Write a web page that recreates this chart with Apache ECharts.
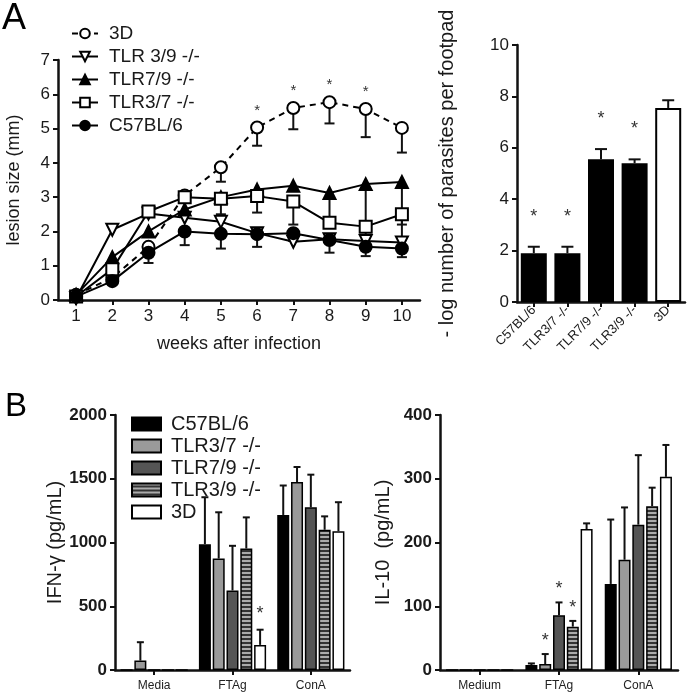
<!DOCTYPE html>
<html><head><meta charset="utf-8">
<script src="https://cdn.jsdelivr.net/npm/echarts@6/dist/echarts.min.js"></script>
<style>html,body{margin:0;padding:0;background:#fff}#c{width:693px;height:696px}</style>
</head><body><div id="c"></div>
<script>
// ---------- Panel A (left): lesion size ----------
const weeks = ['1','2','3','4','5','6','7','8','9','10'];
const lesion3D      = [0.15,0.65,1.55,3.05,3.87,5.03,5.6,5.77,5.57,5.02];
const lesion3DLow   = [null,null,null,null,3.45,4.5,4.98,5.15,4.75,4.3];
const lesion3DSig   = [0,0,0,0,0,1,1,1,1,0];
const lesionTLR39   = [0.05,2.05,2.52,2.4,2.28,1.95,1.7,1.77,1.72,1.68];
const lesionTLR39Low= [null,null,null,null,null,null,null,null,1.45,1.45];
const lesionTLR79   = [0.15,1.25,2.0,2.64,3.0,3.22,3.33,3.12,3.38,3.44];
const lesionTLR79Low= [null,null,null,null,null,null,null,2.3,1.6,1.55];
const lesionTLR37   = [0.1,0.9,2.58,3.0,2.95,3.03,2.87,2.25,2.14,2.5];
const lesionTLR37Low= [null,null,null,null,2.5,2.55,2.2,null,null,2.2];
const lesionC57     = [0.1,0.55,1.38,2.0,1.93,1.92,1.95,1.75,1.55,1.5];
const lesionC57Low  = [null,null,1.08,1.6,1.5,1.55,1.72,1.38,1.28,1.25];

// ---------- Panel A (right): parasites ----------
const groupsA       = ['C57BL/6','TLR3/7 -/-','TLR7/9 -/-','TLR3/9 -/-','3D'];
const parasites     = [1.9,1.9,5.55,5.4,7.55];
const parasitesErr  = [0.25,0.25,0.4,0.15,0.3];
const parasitesSig  = [1,1,1,1,0];

// ---------- Panel B ----------
const stimIFN = ['Media','FTAg','ConA'];
const stimIL  = ['Medium','FTAg','ConA'];
const strains = ['C57BL/6','TLR3/7 -/-','TLR7/9 -/-','TLR3/9 -/-','3D'];
const ifnC57   = [0,987,1216];  const ifnC57Err   = [0,368,231];
const ifnTLR37 = [74,874,1474]; const ifnTLR37Err = [144,363,118];
const ifnTLR79 = [0,624,1276];  const ifnTLR79Err = [0,350,256];
const ifnTLR39 = [0,953,1100];  const ifnTLR39Err = [0,244,105];
const ifn3D    = [0,197,1089];  const ifn3DErr    = [0,119,227];
const ifnSig   = [[0,0,0],[0,0,0],[0,0,0],[0,0,0],[0,1,0]];
const ilC57   = [0,7.8,135];  const ilC57Err   = [0,2.5,101];
const ilTLR37 = [0,9.4,173];  const ilTLR37Err = [0,15.6,82];
const ilTLR79 = [0,86,228];   const ilTLR79Err = [0,20,109];
const ilTLR39 = [0,68,257];   const ilTLR39Err = [0,9,29];
const il3D    = [0,221,303];  const il3DErr    = [0,9,50];
const ilSig   = [[0,0,0],[0,1,0],[0,1,0],[0,1,0],[0,0,0]];

// ---------- styles ----------
const FONT = 'Liberation Sans, Arial, sans-serif';
const TXT = '#1a1a1a';
const stripe = document.createElement('canvas');
stripe.width = 4; stripe.height = 4;
(function(){const g = stripe.getContext('2d');g.fillStyle='#ababab';g.fillRect(0,0,4,4);g.fillStyle='#333333';g.fillRect(0,2,4,2);})();
const strainColors = ['#000000','#9a9a9a','#555555',{image:stripe,repeat:'repeat'},'#ffffff'];

const axisLine = {show:true,lineStyle:{color:'#111',width:2.5}};
const axisTick = {show:true,length:5,lineStyle:{color:'#111',width:2}};

function lowErr(xi, yi, vals, lows, sig, cap){
  return {type:'custom', xAxisIndex:xi, yAxisIndex:yi, z:1, silent:true,
    data: vals.map((v,i)=>[i, v, lows[i]==null? v : lows[i], sig? sig[i]:0]),
    renderItem:(p,api)=>{
      const v=api.value(1), lo=api.value(2), s=api.value(3);
      const a=api.coord([api.value(0), v]); const b=api.coord([api.value(0), lo]);
      const ch=[];
      if (lo < v){
        ch.push({type:'line',shape:{x1:a[0],y1:a[1],x2:b[0],y2:b[1]},style:{stroke:'#111',lineWidth:2}});
        ch.push({type:'line',shape:{x1:b[0]-cap,y1:b[1],x2:b[0]+cap,y2:b[1]},style:{stroke:'#111',lineWidth:2}});
      }
      if (s) ch.push({type:'text',x:a[0],y:a[1]-17,style:{text:'*',font:'15px '+FONT,fill:'#333',align:'center',verticalAlign:'middle'}});
      return {type:'group',children:ch};
    }};
}
function upErr(xi, yi, vals, errs, sig, pos, step, cap, starGap){
  return {type:'custom', xAxisIndex:xi, yAxisIndex:yi, z:1, silent:true,
    data: vals.map((v,i)=>[i, v, errs[i], sig? sig[i]:0]),
    renderItem:(p,api)=>{
      const v=api.value(1), e=api.value(2), s=api.value(3);
      const a=api.coord([api.value(0), v]); const b=api.coord([api.value(0), v+e]);
      const x=a[0]+pos*step;
      const ch=[];
      if (e>0){
        ch.push({type:'line',shape:{x1:x,y1:a[1],x2:x,y2:b[1]},style:{stroke:'#111',lineWidth:2}});
        ch.push({type:'line',shape:{x1:x-cap,y1:b[1],x2:x+cap,y2:b[1]},style:{stroke:'#111',lineWidth:2}});
      }
      if (s) ch.push({type:'text',x:x,y:b[1]-starGap,style:{text:'*',font:'18px '+FONT,fill:'#333',align:'center',verticalAlign:'middle'}});
      return {type:'group',children:ch};
    }};
}

const lineDefs = [
  {name:'3D', data:lesion3D, low:lesion3DLow, sig:lesion3DSig, symbol:'circle', fill:'#fff', dash:[6,5]},
  {name:'TLR 3/9 -/-', data:lesionTLR39, low:lesionTLR39Low, symbol:'path://M0,0L20,0L10,17Z', fill:'#fff'},
  {name:'TLR7/9 -/-', data:lesionTLR79, low:lesionTLR79Low, symbol:'triangle', fill:'#000'},
  {name:'TLR3/7 -/-', data:lesionTLR37, low:lesionTLR37Low, symbol:'rect', fill:'#fff'},
  {name:'C57BL/6', data:lesionC57, low:lesionC57Low, symbol:'circle', fill:'#000'}
];

const series = [];
lineDefs.forEach(d=>{ series.push(lowErr(0,0,d.data,d.low,d.sig,5)); });
lineDefs.forEach(d=>{
  series.push({type:'line', name:'A:'+d.name, xAxisIndex:0, yAxisIndex:0, data:d.data, z:3,
    symbol:d.symbol, symbolSize:12, color:'#000',
    lineStyle:{color:'#000', width:2, type: d.dash||'solid'},
    itemStyle:{color:d.fill, borderColor:'#000', borderWidth:2}});
});
// Panel A right
series.push({type:'bar', xAxisIndex:1, yAxisIndex:1, barWidth:26, z:2,
  data: parasites.map((v,i)=>({value:v, itemStyle:{color: i===groupsA.length-1?'#fff':'#000'}})),
  itemStyle:{borderColor:'#000', borderWidth:2}});
series.push(upErr(1,1,parasites,parasitesErr,parasitesSig,0,0,6,30));

// Panel B
const ifnVals = [ifnC57,ifnTLR37,ifnTLR79,ifnTLR39,ifn3D];
const ifnErrs = [ifnC57Err,ifnTLR37Err,ifnTLR79Err,ifnTLR39Err,ifn3DErr];
const ilVals  = [ilC57,ilTLR37,ilTLR79,ilTLR39,il3D];
const ilErrs  = [ilC57Err,ilTLR37Err,ilTLR79Err,ilTLR39Err,il3DErr];
const BW = 12, BG = 0.15, STEP = BW*(1+BG);
strains.forEach((s,k)=>{
  series.push({type:'bar', name:'B:'+s, xAxisIndex:2, yAxisIndex:2, data:ifnVals[k], barWidth:BW, barGap:'15%', z:2,
    itemStyle:{color:strainColors[k], borderColor:'#000', borderWidth:1.5}});
});
strains.forEach((s,k)=>{ series.push(upErr(2,2,ifnVals[k],ifnErrs[k],ifnSig[k],k-2,STEP,3.5,16)); });
strains.forEach((s,k)=>{
  series.push({type:'bar', name:'C:'+s, xAxisIndex:3, yAxisIndex:3, data:ilVals[k], barWidth:BW, barGap:'15%', z:2,
    itemStyle:{color:strainColors[k], borderColor:'#000', borderWidth:1.5}});
});
strains.forEach((s,k)=>{ series.push(upErr(3,3,ilVals[k],ilErrs[k],ilSig[k],k-2,STEP,3.5,13)); });

const lbl = (sz, extra)=>Object.assign({color:TXT, fontSize:sz, fontFamily:FONT}, extra||{});
const strip = n => n.slice(2);
const plain = v => String(v);

const option = {
  animation:false,
  backgroundColor:'#fff',
  textStyle:{fontFamily:FONT},
  graphic:[
    {type:'text', left:2, top:1, style:{text:'A', font:'36px '+FONT, fill:'#000'}},
    {type:'text', left:5, top:390, style:{text:'B', font:'33px '+FONT, fill:'#000'}}
  ],
  legend:[
    {orient:'vertical', left:66, top:19, itemWidth:26, itemHeight:12, itemGap:4,
     data:lineDefs.map(d=>'A:'+d.name), formatter:strip,
     textStyle:lbl(19,{padding:[0,0,0,6]}), selectedMode:false},
    {orient:'vertical', left:126, top:409, itemWidth:29, itemHeight:13, itemGap:2, icon:'rect',
     data:strains.map(s=>'B:'+s), formatter:strip,
     textStyle:lbl(20,{padding:[0,0,0,5]}), selectedMode:false}
  ],
  grid:[
    {left:58, top:60, width:362, height:240, outerBoundsMode:'none'},
    {left:517, top:45, width:168, height:257, outerBoundsMode:'none'},
    {left:115, top:415, width:235, height:255, outerBoundsMode:'none'},
    {left:440, top:415, width:238, height:255, outerBoundsMode:'none'}
  ],
  xAxis:[
    {gridIndex:0, type:'category', data:weeks, axisLine, axisTick:Object.assign({alignWithLabel:true},axisTick),
     axisLabel:lbl(17,{margin:8}), name:'weeks after infection', nameLocation:'middle', nameGap:35, nameTextStyle:lbl(18)},
    {gridIndex:1, type:'category', data:groupsA, axisLine, axisTick:Object.assign({alignWithLabel:true},axisTick),
     axisLabel:lbl(13,{rotate:45, interval:0, margin:6})},
    {gridIndex:2, type:'category', data:stimIFN, axisLine, axisTick:Object.assign({alignWithLabel:true},axisTick),
     axisLabel:lbl(12,{margin:10, color:'#222'})},
    {gridIndex:3, type:'category', data:stimIL, axisLine, axisTick:Object.assign({alignWithLabel:true},axisTick),
     axisLabel:lbl(12,{margin:10, color:'#222'})}
  ],
  yAxis:[
    {gridIndex:0, type:'value', min:0, max:7, interval:1, axisLine, axisTick, splitLine:{show:false},
     axisLabel:lbl(17,{margin:8}), name:'lesion size (mm)', nameLocation:'middle', nameGap:35, nameTextStyle:lbl(18)},
    {gridIndex:1, type:'value', min:0, max:10, interval:2, axisLine, axisTick, splitLine:{show:false},
     axisLabel:lbl(17,{margin:8}), name:'- log number of parasites per footpad', nameLocation:'middle', nameGap:60, nameTextStyle:lbl(20)},
    {gridIndex:2, type:'value', min:0, max:2000, interval:500, axisLine, axisTick, splitLine:{show:false},
     axisLabel:lbl(17,{margin:8, fontWeight:'bold', formatter:plain}), name:'IFN-γ (pg/mL)', nameLocation:'middle', nameGap:47, nameTextStyle:lbl(20)},
    {gridIndex:3, type:'value', min:0, max:400, interval:100, axisLine, axisTick, splitLine:{show:false},
     axisLabel:lbl(17,{margin:8, fontWeight:'bold', formatter:plain}), name:'IL-10  (pg/mL)', nameLocation:'middle', nameGap:47, nameTextStyle:lbl(20)}
  ],
  series
};
const chart = echarts.init(document.getElementById('c'), null, {renderer:'canvas'});
chart.setOption(option);
</script>
</body></html>
